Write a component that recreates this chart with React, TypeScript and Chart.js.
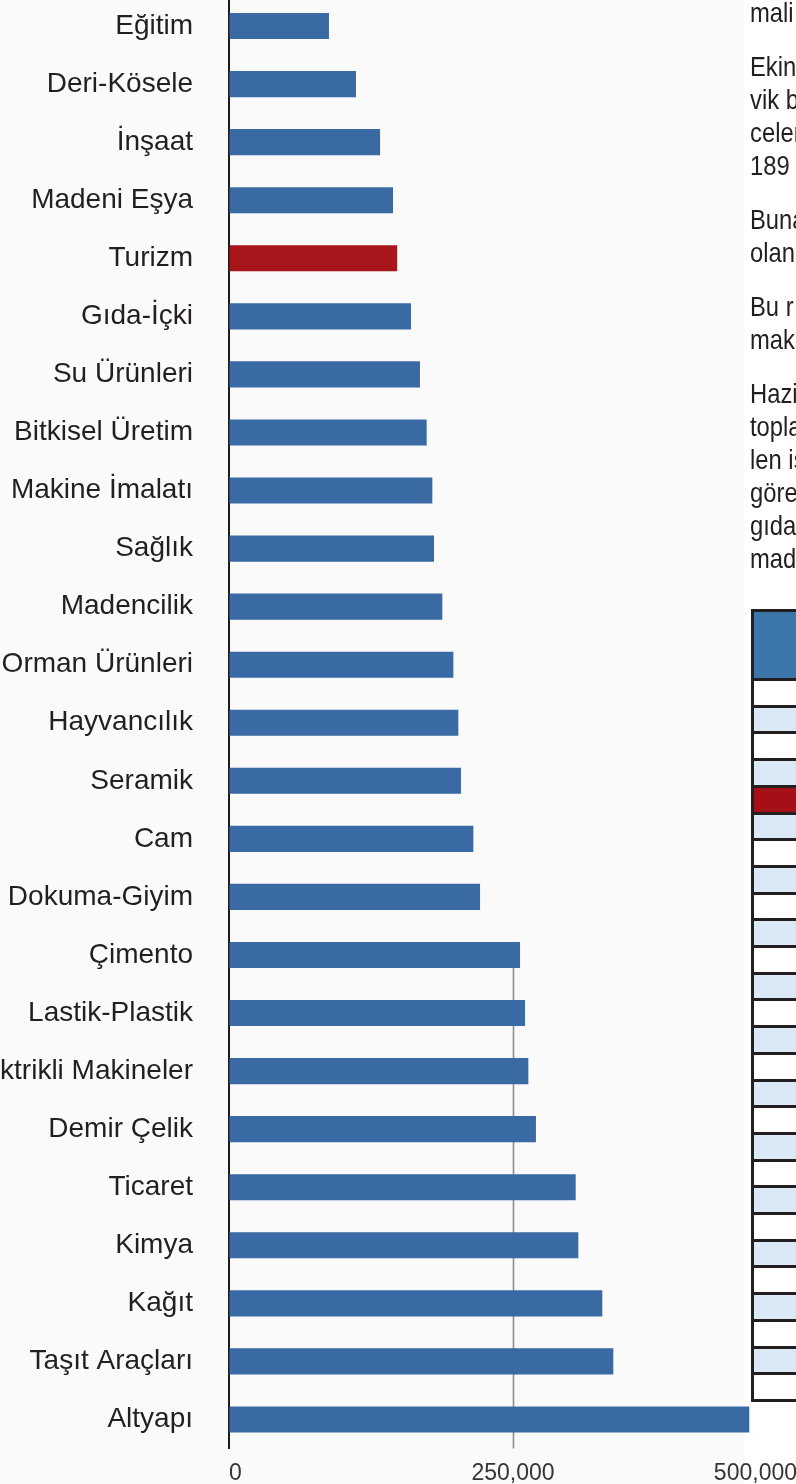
import React, { useEffect, useRef } from "react";
import { Chart, registerables } from "chart.js";

Chart.register(...registerables);

// ---- chart data (top to bottom) ----
const categories: string[] = [
  "Eğitim",
  "Deri-Kösele",
  "İnşaat",
  "Madeni Eşya",
  "Turizm",
  "Gıda-İçki",
  "Su Ürünleri",
  "Bitkisel Üretim",
  "Makine İmalatı",
  "Sağlık",
  "Madencilik",
  "Orman Ürünleri",
  "Hayvancılık",
  "Seramik",
  "Cam",
  "Dokuma-Giyim",
  "Çimento",
  "Lastik-Plastik",
  "Elektrikli Makineler",
  "Demir Çelik",
  "Ticaret",
  "Kimya",
  "Kağıt",
  "Taşıt Araçları",
  "Altyapı",
];

const values: number[] = [
  88000, 111800, 133000, 144400, 148000, 160200, 168100, 174000, 179000,
  180500, 187800, 197500, 201900, 204200, 215100, 221000, 256200, 260600,
  263500, 270200, 305200, 307500, 328600, 338300, 458000,
];

const highlightCategory = "Turizm";
const xTickValues: number[] = [0, 250000, 500000];
const gridlineValue = 250000;

// ---- neighbouring newspaper column (cropped in the reference) ----
const sideParagraphs: string[][] = [
  ["mali"],
  ["Ekin", "vik b", "celer", "189"],
  ["Buna", "olan"],
  ["Bu r", "mak"],
  ["Hazi", "topla", "len is", "göre", "gıda", "mad"],
];
const tableRowCount = 27;
const tableHighlightRow = 4;

const BLUE = "#3a6aa4";
const RED = "#a8151b";
const CANVAS_W = 800;
const CANVAS_H = 1490;

export default function App() {
  const canvasRef = useRef<HTMLCanvasElement>(null);

  useEffect(() => {
    const canvas = canvasRef.current;
    if (!canvas) return;

    const partialGrid = {
      id: "partialGrid",
      beforeDatasetsDraw(chart: any) {
        const xs = chart.scales.x;
        const ys = chart.scales.y;
        const idx = values.findIndex((v) => v > gridlineValue);
        if (idx < 0) return;
        const x = Math.round(xs.getPixelForValue(gridlineValue)) + 0.5;
        const ctx = chart.ctx;
        ctx.save();
        ctx.strokeStyle = "#8d8d8d";
        ctx.lineWidth = 1.6;
        ctx.beginPath();
        ctx.moveTo(x, ys.getPixelForValue(idx));
        ctx.lineTo(x, chart.chartArea.bottom);
        ctx.stroke();
        ctx.restore();
      },
    };

    const chart = new Chart(canvas, {
      type: "bar",
      data: {
        labels: categories,
        datasets: [
          {
            data: values,
            backgroundColor: categories.map((c) =>
              c === highlightCategory ? RED : BLUE
            ),
            borderWidth: 0,
            barPercentage: 0.45,
            categoryPercentage: 1,
          },
        ],
      },
      options: {
        indexAxis: "y",
        responsive: false,
        animation: false,
        devicePixelRatio: 1,
        layout: { padding: { top: 0, bottom: 0, left: 0, right: 3 } },
        plugins: {
          legend: { display: false },
          tooltip: { enabled: false },
        },
        scales: {
          x: {
            type: "linear",
            position: "bottom",
            min: 0,
            max: 500000,
            afterBuildTicks: (scale: any) => {
              scale.ticks = xTickValues.map((v) => ({ value: v }));
            },
            ticks: {
              align: "inner",
              padding: 11,
              maxRotation: 0,
              autoSkip: false,
              color: "#353535",
              font: { family: "'Liberation Sans', Arial, sans-serif", size: 23 },
              callback: (v: any) => Number(v).toLocaleString("en-US"),
            },
            grid: { display: true, color: "rgba(0,0,0,0)", drawTicks: false },
            border: { display: false },
            afterFit: (scale: any) => {
              scale.height = CANVAS_H - 1451.5;
              scale.paddingLeft = 0;
              scale.paddingRight = 0;
            },
          },
          y: {
            type: "category",
            ticks: {
              padding: 36,
              autoSkip: false,
              color: "#231f20",
              font: { family: "'Liberation Sans', Arial, sans-serif", size: 28 },
            },
            grid: { display: true, color: "rgba(0,0,0,0)", drawTicks: false },
            border: { display: true, color: "#1c1c1c", width: 2 },
            afterFit: (scale: any) => {
              scale.width = 229;
              scale.paddingTop = 0;
              scale.paddingBottom = 0;
            },
          },
        },
      } as any,
      plugins: [partialGrid],
    });

    return () => chart.destroy();
  }, []);

  return (
    <div
      style={{
        position: "absolute",
        left: 0,
        top: 0,
        width: 796,
        height: 1484,
        overflow: "hidden",
        background: "#ffffff",
      }}
    >
      <div
        style={{
          position: "absolute",
          left: 0,
          top: 0,
          width: 744,
          height: 1484,
          background: "#fafafa",
        }}
      />
      <canvas
        ref={canvasRef}
        width={CANVAS_W}
        height={CANVAS_H}
        style={{ position: "absolute", left: 0, top: -3, width: CANVAS_W, height: CANVAS_H }}
      />

      {/* cropped text column */}
      <div
        style={{
          position: "absolute",
          left: 750,
          top: -4.5,
          width: 200,
          fontFamily: "'Liberation Sans', Arial, sans-serif",
          fontSize: 28,
          lineHeight: "33px",
          color: "#231f20",
          whiteSpace: "nowrap",
          transform: "scaleX(0.85)",
          transformOrigin: "0 0",
        }}
      >
        {sideParagraphs.map((p, i) => (
          <div key={i} style={{ marginBottom: 21 }}>
            {p.map((line, j) => (
              <div key={j}>{line}</div>
            ))}
          </div>
        ))}
      </div>

      {/* cropped table */}
      <div
        style={{
          position: "absolute",
          left: 751,
          top: 609,
          width: 120,
          height: 793,
          boxSizing: "border-box",
          borderLeft: "3px solid #231f20",
          borderTop: "3px solid #231f20",
          borderBottom: "3px solid #231f20",
          display: "flex",
          flexDirection: "column",
        }}
      >
        <div style={{ height: 66, background: "#3b75a9", flex: "0 0 66px" }} />
        <div style={{ flex: 1, display: "flex", flexDirection: "column" }}>
          {Array.from({ length: tableRowCount }, (_, i) => (
            <div
              key={i}
              style={{
                flex: 1,
                boxSizing: "border-box",
                borderTop: "3px solid #231f20",
                background:
                  i === tableHighlightRow ? "#a50f16" : i % 2 === 0 ? "#ffffff" : "#dbe9f6",
              }}
            />
          ))}
        </div>
      </div>
    </div>
  );
}
